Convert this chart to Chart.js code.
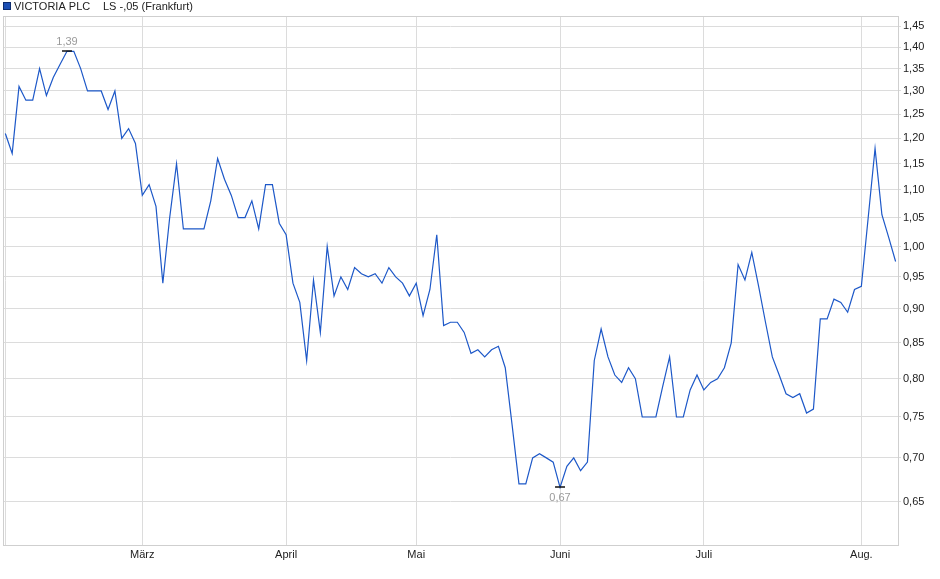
<!DOCTYPE html>
<html>
<head>
<meta charset="utf-8">
<script src="https://cdn.jsdelivr.net/npm/chart.js@4"></script>
<style>
  html, body { margin: 0; padding: 0; background: #fff; }
  #wrap { width: 940px; height: 579px; }
</style>
</head>
<body>
<div id="wrap"><canvas id="c" width="940" height="579"></canvas></div>
<script>
// ---- data ----
const seriesName = 'VICTORIA PLC';
const seriesSub = 'LS -,05 (Frankfurt)';
const prices = [
  1.21,1.17,1.31,1.28,1.28,1.35,1.29,1.33,1.36,1.39,
  1.39,1.35,1.30,1.30,1.30,1.26,1.30,1.20,1.22,1.19,
  1.09,1.11,1.07,0.94,1.05,1.15,1.03,1.03,1.03,1.03,
  1.08,1.16,1.12,1.09,1.05,1.05,1.08,1.03,1.11,1.11,
  1.04,1.02,0.94,0.91,0.825,0.945,0.865,1.00,0.92,0.95,
  0.93,0.965,0.955,0.95,0.955,0.94,0.965,0.95,0.94,0.92,
  0.94,0.89,0.93,1.02,0.875,0.88,0.88,0.865,0.835,0.84,
  0.83,0.84,0.845,0.815,0.74,0.67,0.67,0.70,0.705,0.70,
  0.695,0.666,0.69,0.70,0.685,0.695,0.825,0.87,0.83,0.805,
  0.795,0.815,0.80,0.75,0.75,0.75,0.79,0.83,0.75,0.75,
  0.785,0.805,0.785,0.795,0.80,0.815,0.85,0.97,0.945,0.99,
  0.935,0.88,0.83,0.805,0.78,0.775,0.78,0.755,0.76,0.885,
  0.885,0.915,0.91,0.895,0.93,0.935,1.05,1.18,1.055,1.015,
  0.975
];
const monthLabels = ['März','April','Mai','Juni','Juli','Aug.'];
const monthStartIdx = [20, 41, 60, 81, 102, 125];
const yTickValues = [0.65,0.70,0.75,0.80,0.85,0.90,0.95,1.00,1.05,1.10,1.15,1.20,1.25,1.30,1.35,1.40,1.45];

const FONT = "'Liberation Sans', Arial, sans-serif";
const fmt = v => v.toFixed(2).replace('.', ',');

const points = prices.map((v, i) => ({ x: i, y: v }));

const framePlugin = {
  id: 'frame',
  beforeDatasetsDraw(chart) {
    const { ctx, chartArea: a } = chart;
    ctx.save();
    ctx.strokeStyle = '#cfcfcf';
    ctx.lineWidth = 1;
    ctx.strokeRect(Math.round(a.left) + 0.5, Math.round(a.top) + 0.5,
                   Math.round(a.right - a.left), Math.round(a.bottom - a.top));
    ctx.restore();
  }
};

const legendPlugin = {
  id: 'customLegend',
  afterDraw(chart) {
    const ctx = chart.ctx;
    ctx.save();
    ctx.fillStyle = '#1c4fb4';
    ctx.fillRect(3, 2, 8, 8);
    ctx.strokeStyle = '#0d2c6e';
    ctx.lineWidth = 1;
    ctx.strokeRect(3.5, 2.5, 7, 7);
    ctx.fillStyle = '#222';
    ctx.font = '11px ' + FONT;
    ctx.textBaseline = 'middle';
    ctx.textAlign = 'left';
    ctx.fillText(seriesName, 14, 6.5);
    ctx.fillText(seriesSub, 103, 6.5);
    ctx.restore();
  }
};

const extremaPlugin = {
  id: 'extrema',
  afterDatasetsDraw(chart) {
    const ctx = chart.ctx;
    const xs = chart.scales.x, ys = chart.scales.y;
    let iMax = 0, iMin = 0;
    prices.forEach((v, i) => {
      if (v > prices[iMax]) iMax = i;
      if (v < prices[iMin]) iMin = i;
    });
    ctx.save();
    ctx.font = '11px ' + FONT;
    ctx.textAlign = 'center';
    ctx.textBaseline = 'middle';
    const draw = (i, above) => {
      const px = xs.getPixelForValue(i);
      const py = Math.round(ys.getPixelForValue(prices[i]));
      ctx.strokeStyle = '#111';
      ctx.lineWidth = 1.5;
      ctx.beginPath();
      ctx.moveTo(px - 5, py);
      ctx.lineTo(px + 5, py);
      ctx.stroke();
      ctx.fillStyle = '#9a9a9a';
      ctx.fillText(fmt(prices[i]), px, above ? py - 9 : py + 11);
    };
    draw(iMax, true);
    draw(iMin, false);
    ctx.restore();
  }
};

new Chart(document.getElementById('c'), {
  type: 'line',
  data: {
    datasets: [{
      label: seriesName,
      data: points,
      borderColor: '#1d58c8',
      backgroundColor: '#1c4fb4',
      borderWidth: 1.2,
      pointRadius: 0,
      tension: 0,
      fill: false
    }]
  },
  options: {
    responsive: false,
    animation: false,
    devicePixelRatio: 1,
    layout: { padding: { top: 16, left: 3, right: 0, bottom: 0 } },
    plugins: {
      legend: { display: false },
      tooltip: { enabled: false }
    },
    scales: {
      x: {
        type: 'linear',
        min: -0.34,
        max: 130.35,
        border: { display: true, color: '#cfcfcf' },
        grid: { color: '#dcdcdc', drawTicks: false, lineWidth: 1 },
        ticks: {
          font: { family: FONT, size: 11 },
          color: '#222',
          padding: 3,
          maxRotation: 0,
          autoSkip: false,
          callback: (v) => {
            const k = monthStartIdx.indexOf(v);
            return k >= 0 ? monthLabels[k] : '';
          }
        },
        afterBuildTicks: (axis) => {
          axis.ticks = [{ value: 0 }].concat(monthStartIdx.map(v => ({ value: v })));
        },
        afterFit: (axis) => { axis.height = 34; }
      },
      y: {
        type: 'logarithmic',
        position: 'right',
        min: 0.6043,
        max: 1.4753,
        border: { display: true, color: '#cfcfcf' },
        grid: { color: '#dcdcdc', tickLength: 3, lineWidth: 1 },
        ticks: {
          font: { family: FONT, size: 11 },
          color: '#222',
          padding: 2,
          autoSkip: false,
          callback: (v) => fmt(v)
        },
        afterBuildTicks: (axis) => {
          axis.ticks = yTickValues.map(v => ({ value: v }));
        },
        afterFit: (axis) => { axis.width = 42; }
      }
    }
  },
  plugins: [framePlugin, extremaPlugin, legendPlugin]
});
</script>
</body>
</html>
